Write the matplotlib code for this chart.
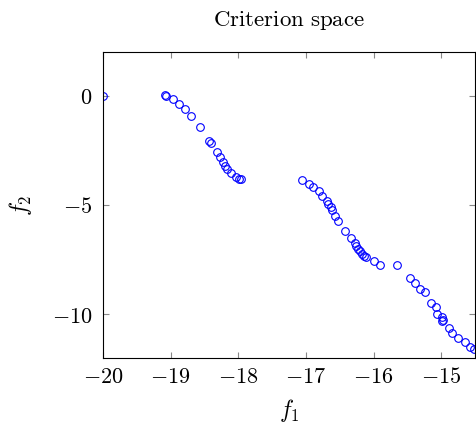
import numpy as np
import matplotlib
matplotlib.use("Agg")
import matplotlib.pyplot as plt

# criterion space points (f1, f2)
f1 = [-20.0,
      -19.08, -19.07, -18.96, -18.87, -18.79, -18.70, -18.57, -18.43, -18.41,
      -18.31, -18.27, -18.23, -18.20, -18.16, -18.11, -18.03, -17.99, -17.96,
      -17.06, -16.95, -16.90, -16.80, -16.765, -16.69, -16.676, -16.632, -16.61,
      -16.575, -16.52, -16.42, -16.336, -16.272, -16.253, -16.223, -16.203,
      -16.173, -16.139, -16.11, -16.0, -15.90, -15.65,
      -15.46, -15.385, -15.31, -15.247, -15.15, -15.074, -15.06, -14.99,
      -14.975, -14.99, -14.89, -14.84, -14.75, -14.645, -14.58, -14.51]
f2 = [0.0,
      0.01, -0.03, -0.17, -0.37, -0.59, -0.91, -1.43, -2.05, -2.15,
      -2.59, -2.82, -3.03, -3.20, -3.34, -3.52, -3.73, -3.82, -3.82,
      -3.87, -4.02, -4.18, -4.37, -4.57, -4.83, -4.95, -5.09, -5.21,
      -5.51, -5.71, -6.20, -6.51, -6.76, -6.87, -7.01, -7.10,
      -7.24, -7.35, -7.38, -7.57, -7.74, -7.73,
      -8.32, -8.58, -8.86, -9.00, -9.50, -9.66, -9.99, -10.14,
      -10.25, -10.31, -10.61, -10.84, -11.08, -11.29, -11.48, -11.60]

xticks = [-20, -19, -18, -17, -16, -15]
yticks = [0, -5, -10]

plt.rcParams['mathtext.fontset'] = 'cm'
plt.rcParams['font.family'] = 'serif'
plt.rcParams['font.serif'] = ['DejaVu Serif']
plt.rcParams['axes.formatter.use_mathtext'] = True

fig = plt.figure(figsize=(4.76, 4.26), dpi=100)
ax = fig.add_axes([0.2164, 0.1596, 0.7816, 0.7184])

ax.plot(f1, f2, linestyle='none', marker='o', markersize=5.5,
        markerfacecolor='none', markeredgecolor='blue', markeredgewidth=0.8)

ax.set_xlim(-20, -14.5)
ax.set_ylim(-12, 2)
ax.set_xticks(xticks)
ax.set_yticks(yticks)
ax.set_xticklabels([r'$-%d$' % abs(v) for v in xticks])
ax.set_yticklabels([r'$%d$' % v if v == 0 else r'$-%d$' % abs(v) for v in yticks])
ax.tick_params(direction='in', length=4.5, width=0.8, color='#888888',
               top=True, right=True, labelsize=16)
ax.tick_params(axis='x', pad=6)
ax.tick_params(axis='y', pad=7.5)
for s in ax.spines.values():
    s.set_linewidth(0.8)

ax.set_title(r'$\mathrm{Criterion\ space}$', fontsize=16.5, pad=19)
ax.set_xlabel(r'$f_1$', fontsize=17, labelpad=6)
ax.set_ylabel(r'$f_2$', fontsize=17, labelpad=13)

plt.savefig('out.png', dpi=100)
